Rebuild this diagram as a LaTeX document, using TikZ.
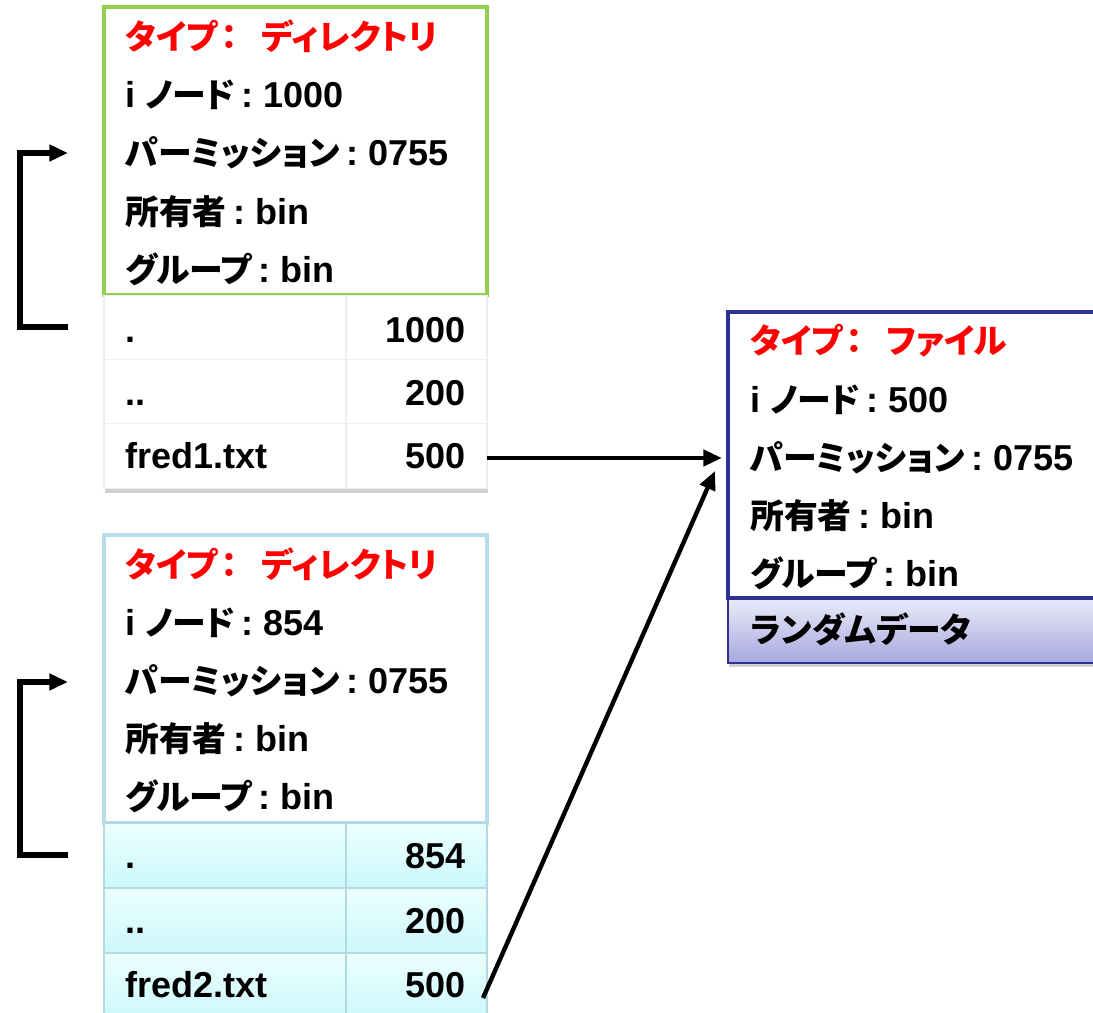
\documentclass[tikz,border=0pt]{standalone}
\usepackage{fontspec}
\setmainfont{Liberation Sans}
\newfontfamily\cjk{Noto Sans CJK JP}[RawFeature=+palt, Scale=0.94]
\usetikzlibrary{arrows.meta,shadows}
\definecolor{dirgreen}{RGB}{146,208,80}
\definecolor{dirblue}{RGB}{183,222,232}
\definecolor{navyb}{RGB}{46,49,146}
\definecolor{cyantop}{RGB}{236,255,255}
\definecolor{cyanbot}{RGB}{204,248,252}
\definecolor{cyanline}{RGB}{178,218,224}
\definecolor{lavtop}{RGB}{234,234,250}
\definecolor{lavbot}{RGB}{168,168,222}
\definecolor{typered}{RGB}{255,0,0}
\newcommand\jp[1]{{\cjk #1}}
\newcommand\cln{\hspace{0.18em}:}
\newcommand\typecolon{\hspace{0.1em}\jp{：}\hspace{0.65em}}
\begin{document}
\begin{tikzpicture}[x=0.75pt,y=-0.75pt,
  txt/.style={anchor=base west, inner sep=0, font=\fontsize{27}{30}\selectfont\bfseries},
  num/.style={anchor=base east, inner sep=0, font=\fontsize{27}{30}\selectfont\bfseries},
  red/.style={text=typered},
  dirbox/.style={draw, line width=2.4pt, fill=white, minimum width=287.25pt, minimum height=216pt, inner sep=0},
  cellA/.style={minimum width=181.5pt, minimum height=48.5pt, inner sep=0},
  cellB/.style={minimum width=105.75pt, minimum height=48.5pt, inner sep=0},
  wcell/.style={fill=white, draw=black!7, line width=1pt},
  ccell/.style={top color=cyantop, bottom color=cyanbot, draw=cyanline, line width=1.2pt},
  tblshadow/.style={minimum width=287.25pt, minimum height=145.5pt, inner sep=0, fill=white, drop shadow={shadow xshift=1pt, shadow yshift=-3pt, opacity=0.3, fill=black!60}},
  conn/.style={line width=3.3pt, -{Triangle[length=14pt,width=12pt]}},
  brk/.style={line width=3.8pt, -{Triangle[length=14pt,width=12pt]}}
]
\useasboundingbox (0,0) rectangle (1093,1013);
\fill[white] (0,0) rectangle (1093,1013);

% ---------- top directory ----------
\node[dirbox, draw=dirgreen] (d1) at (295.5,151) {};
\node[txt, red] (d1t) at (125,50) {\jp{タイプ}\typecolon\jp{ディレクトリ}};
\node[txt] (d1i) at (125,108) {i \jp{ノード}\cln\ 1000};
\node[txt] (d1p) at (125,166) {\jp{パーミッション}\cln\ 0755};
\node[txt] (d1o) at (125,224) {\jp{所有者}\cln\ bin};
\node[txt] (d1g) at (125,282) {\jp{グループ}\cln\ bin};

\node[tblshadow] (t1) at (295.5,391.5) {};
\node[cellA, wcell] (t1a1) at (225,327.5) {};
\node[cellB, wcell] (t1b1) at (416.5,327.5) {};
\node[cellA, wcell] (t1a2) at (225,392) {};
\node[cellB, wcell] (t1b2) at (416.5,392) {};
\node[cellA, wcell] (t1a3) at (225,456) {};
\node[cellB, wcell] (t1b3) at (416.5,456) {};
\node[txt] (n11) at (125,342) {.};
\node[txt] (n12) at (125,405) {..};
\node[txt] (n13) at (125,468) {fred1.txt};
\node[num] (v11) at (466,342) {1000};
\node[num] (v12) at (466,405) {200};
\node[num] (v13) at (466,468) {500};

% ---------- bottom directory ----------
\node[dirbox, draw=dirblue] (d2) at (295.5,679) {};
\node[txt, red] (d2t) at (125,577) {\jp{タイプ}\typecolon\jp{ディレクトリ}};
\node[txt] (d2i) at (125,635) {i \jp{ノード}\cln\ 854};
\node[txt] (d2p) at (125,693) {\jp{パーミッション}\cln\ 0755};
\node[txt] (d2o) at (125,751) {\jp{所有者}\cln\ bin};
\node[txt] (d2g) at (125,809) {\jp{グループ}\cln\ bin};

\node[tblshadow] (t2) at (295.5,920.5) {};
\node[cellA, ccell] (t2a1) at (225,855.5) {};
\node[cellB, ccell] (t2b1) at (416.5,855.5) {};
\node[cellA, ccell] (t2a2) at (225,920.5) {};
\node[cellB, ccell] (t2b2) at (416.5,920.5) {};
\node[cellA, ccell] (t2a3) at (225,985.5) {};
\node[cellB, ccell] (t2b3) at (416.5,985.5) {};
\node[txt] (n21) at (125,868) {.};
\node[txt] (n22) at (125,933) {..};
\node[txt] (n23) at (125,997) {fred2.txt};
\node[num] (v21) at (466,868) {854};
\node[num] (v22) at (466,933) {200};
\node[num] (v23) at (466,997) {500};

% ---------- file inode ----------
\node[minimum width=286.5pt, minimum height=48.75pt, inner sep=0, top color=lavtop, bottom color=lavbot, draw=navyb, line width=1.6pt,
      drop shadow={shadow xshift=1pt, shadow yshift=-3pt, opacity=0.3, fill=black!60}] (rd) at (919,630.5) {};
\node[draw=navyb, line width=2.4pt, fill=white, minimum width=286.5pt, minimum height=214.5pt, inner sep=0] (f) at (919,455) {};
\node[txt, red] (ft) at (750,353) {\jp{タイプ}\typecolon\jp{ファイル}};
\node[txt] (fi) at (750,412) {i \jp{ノード}\cln\ 500};
\node[txt] (fp) at (750,470) {\jp{パーミッション}\cln\ 0755};
\node[txt] (fo) at (750,528) {\jp{所有者}\cln\ bin};
\node[txt] (fg) at (750,586) {\jp{グループ}\cln\ bin};
\node[txt] (rdt) at (750,642) {\jp{ランダムデータ}};

% ---------- connectors ----------
\coordinate (a1s) at (487,458);
\coordinate (a1e) at (722,458);
\coordinate (a2s) at (483,998);
\coordinate (a2e) at (715,471);
\draw[conn] (a1s) -- (a1e);
\draw[conn] (a2s) -- (a2e);

\coordinate (b1s) at (68,327);
\coordinate (b1e) at (68,153);
\coordinate (b2s) at (68,855);
\coordinate (b2e) at (68,682);
\draw[brk] (b1s) -- (20,327) -- (20,153) -- (b1e);
\draw[brk] (b2s) -- (20,855) -- (20,682) -- (b2e);
\end{tikzpicture}
\end{document}
